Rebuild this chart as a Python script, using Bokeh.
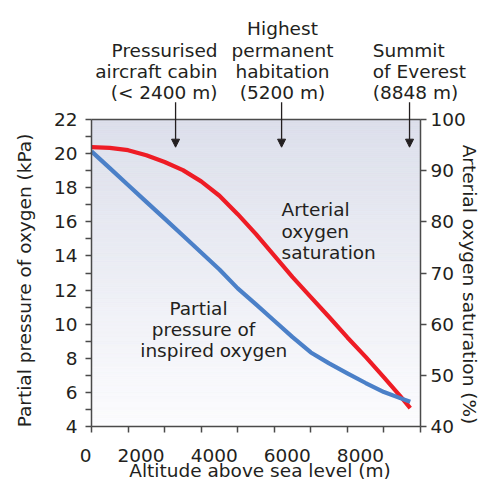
import math
import numpy as np
from bokeh.plotting import figure
from bokeh.models import Range1d, LinearAxis, FixedTicker, Label, Arrow, NormalHead
from bokeh.embed import file_html
from bokeh.resources import INLINE

# ---------------- data ----------------
altitude = [0, 500, 1000, 1500, 2000, 2500, 3000, 3500, 4000, 4500,
            5000, 5500, 6000, 6500, 7000, 7500, 8000, 8500, 8720]
inspired_po2 = [20.13, 19.15, 18.16, 17.17, 16.19, 15.2, 14.2, 13.2, 12.1, 11.16,
                10.2, 9.24, 8.34, 7.7, 7.12, 6.55, 6.02, 5.62, 5.45]
arterial_sat = [94.6, 94.45, 94.0, 93.0, 91.7, 90.1, 87.9, 85.1, 81.5, 77.6,
                73.4, 69.2, 65.3, 61.4, 57.4, 53.6, 49.6, 45.5, 43.6]

left_ticks = [4, 6, 8, 10, 12, 14, 16, 18, 20, 22]
left_minor = [5, 7, 9, 11, 13, 15, 17, 19, 21]
right_ticks = [40, 50, 60, 70, 80, 90, 100]
x_ticks = [0, 2000, 4000, 6000, 8000]
x_tick_labels = ["0", "2000", "4000", "6000", "8000"]
x_minor = [1000, 3000, 5000, 7000, 9000]

marker_alt = [2300, 5200, 8700]
marker_lines = [["Pressurised", "aircraft cabin", "(< 2400 m)"],
                ["Highest", "permanent", "habitation", "(5200 m)"],
                ["Summit", "of Everest", "(8848 m)"]]

x_title = "Altitude above sea level (m)"
left_title = "Partial pressure of oxygen (kPa)"
right_title = "Arterial oxygen saturation (%)"
sat_label = ["Arterial", "oxygen", "saturation"]
po2_label = ["Partial", "pressure of", "inspired oxygen"]

# ---------------- layout / style ----------------
FONT = "DejaVu Sans"
FS = "18.5px"
TC = "#231f20"
AX = "#4a4a4a"
RED = "#ee1c25"
BLUE = "#4b80c8"

W, H = 485, 480
OFF = 0                        # picture px = canvas px + OFF
PL, PR, PT, PB = 91 - OFF, 420 - OFF, 119 - OFF, 426 - OFF   # plot box (canvas px)
X0, X1, Y0, Y1, S0, S1 = 0, 9000, 4, 22, 40, 100
kx = (PR - PL) / (X1 - X0)
ky = (PB - PT) / (Y1 - Y0)
ks = (PB - PT) / (S1 - S0)


def dx(page_x):
    return X0 + (page_x - OFF - PL) / kx


def dy(page_y):
    return Y1 - (page_y - OFF - PT) / ky


p = figure(width=W, height=H,
           x_range=Range1d(X0 - PL / kx, X1 + (W - PR) / kx),
           y_range=Range1d(Y0 - (H - PB) / ky, Y1 + PT / ky),
           output_backend="svg", toolbar_location=None, title=None,
           min_border=0, x_axis_location=None, y_axis_location=None)
p.extra_y_ranges = {"sat": Range1d(S0 - (H - PB) / ks, S1 + PT / ks)}
p.xgrid.visible = False
p.ygrid.visible = False
p.outline_line_color = None
p.background_fill_color = "white"
p.border_fill_color = "white"

# gradient background of the plot box
n = 150
edges = np.linspace(Y0, Y1, n + 1)
frac = ((edges[:-1] + edges[1:]) / 2 - Y0) / (Y1 - Y0)
top_c = (220, 223, 235)
bot_c = (252, 252, 254)
cols = ["#%02x%02x%02x" % tuple(int(round(b + (t - b) * f)) for t, b in zip(top_c, bot_c))
        for f in frac]
p.quad(left=X0, right=X1, bottom=edges[:-1], top=edges[1:],
       fill_color=cols, line_color=cols, line_width=0.8)

# curves
p.line(altitude, arterial_sat, y_range_name="sat", line_color=RED, line_width=4.2,
       line_join="round")
p.line(altitude, inspired_po2, line_color=BLUE, line_width=4.2, line_join="round")


def style_axis(ax, standoff):
    ax.major_tick_out = 6
    ax.major_tick_in = 0
    ax.minor_tick_out = 6
    ax.minor_tick_in = 0
    ax.axis_line_color = AX
    ax.axis_line_width = 1.5
    ax.major_tick_line_color = AX
    ax.major_tick_line_width = 1.5
    ax.minor_tick_line_color = AX
    ax.minor_tick_line_width = 1.5
    ax.major_label_standoff = standoff
    ax.major_label_text_font = FONT
    ax.major_label_text_font_size = FS
    ax.major_label_text_color = TC


ly = LinearAxis(fixed_location=X0, bounds=(Y0, Y1),
                ticker=FixedTicker(ticks=left_ticks, minor_ticks=left_minor))
style_axis(ly, 8)
p.add_layout(ly, "left")

ry = LinearAxis(y_range_name="sat", fixed_location=X1, bounds=(S0, S1),
                ticker=FixedTicker(ticks=right_ticks, minor_ticks=[]))
style_axis(ry, 4)
p.add_layout(ry, "right")

bx = LinearAxis(fixed_location=Y0, bounds=(X0, X1),
                ticker=FixedTicker(ticks=x_ticks, minor_ticks=x_minor))
style_axis(bx, 4)
bx.major_label_overrides = {t: "" for t in x_ticks}
p.add_layout(bx, "below")

tx = LinearAxis(fixed_location=Y1, bounds=(X0, X1), ticker=FixedTicker(ticks=[], minor_ticks=[]))
style_axis(tx, 4)
p.add_layout(tx, "above")


def lab(x, y, text, align="left", baseline="alphabetic", angle=0.0):
    p.add_layout(Label(x=x, y=y, text=text, text_align=align, text_baseline=baseline,
                       angle=angle, text_font=FONT, text_font_size=FS, text_color=TC))


# x tick labels (right-aligned at their ticks, as in the original)
for t, s in zip(x_ticks, x_tick_labels):
    lab(t, dy(455), s, align="right")

# axis titles
lab(dx(259.5), dy(470), x_title, align="center")
lab(dx(24), dy(280), left_title, align="center", baseline="middle", angle=math.pi / 2)
lab(dx(469), dy(284), right_title, align="center", baseline="middle", angle=-math.pi / 2)

# top annotations with arrows
LS = 21.2
block_x = [217, 282, 372.3]
block_align = ["right", "center", "left"]
for bxp, al, lines in zip(block_x, block_align, marker_lines):
    k = len(lines)
    for i, s in enumerate(lines):
        lab(dx(bxp), dy(92 - (k - 1 - i) * LS), s, align=al)

for a in marker_alt:
    p.add_layout(Arrow(end=NormalHead(size=8, fill_color=TC, line_color=TC, line_width=1),
                       x_start=a, y_start=dy(101.7), x_end=a, y_end=dy(146.7),
                       line_color=TC, line_width=1.3))

# curve labels
for i, s in enumerate(sat_label):
    lab(dx(281), dy(209.3 + i * 21.3), s, align="left")
po2_x = [198, 203, 213.3]
for i, (s, xp) in enumerate(zip(po2_label, po2_x)):
    lab(dx(xp), dy(307.7 + i * 21.3), s, align="center")

open("out.html", "w").write(file_html(p, INLINE))
